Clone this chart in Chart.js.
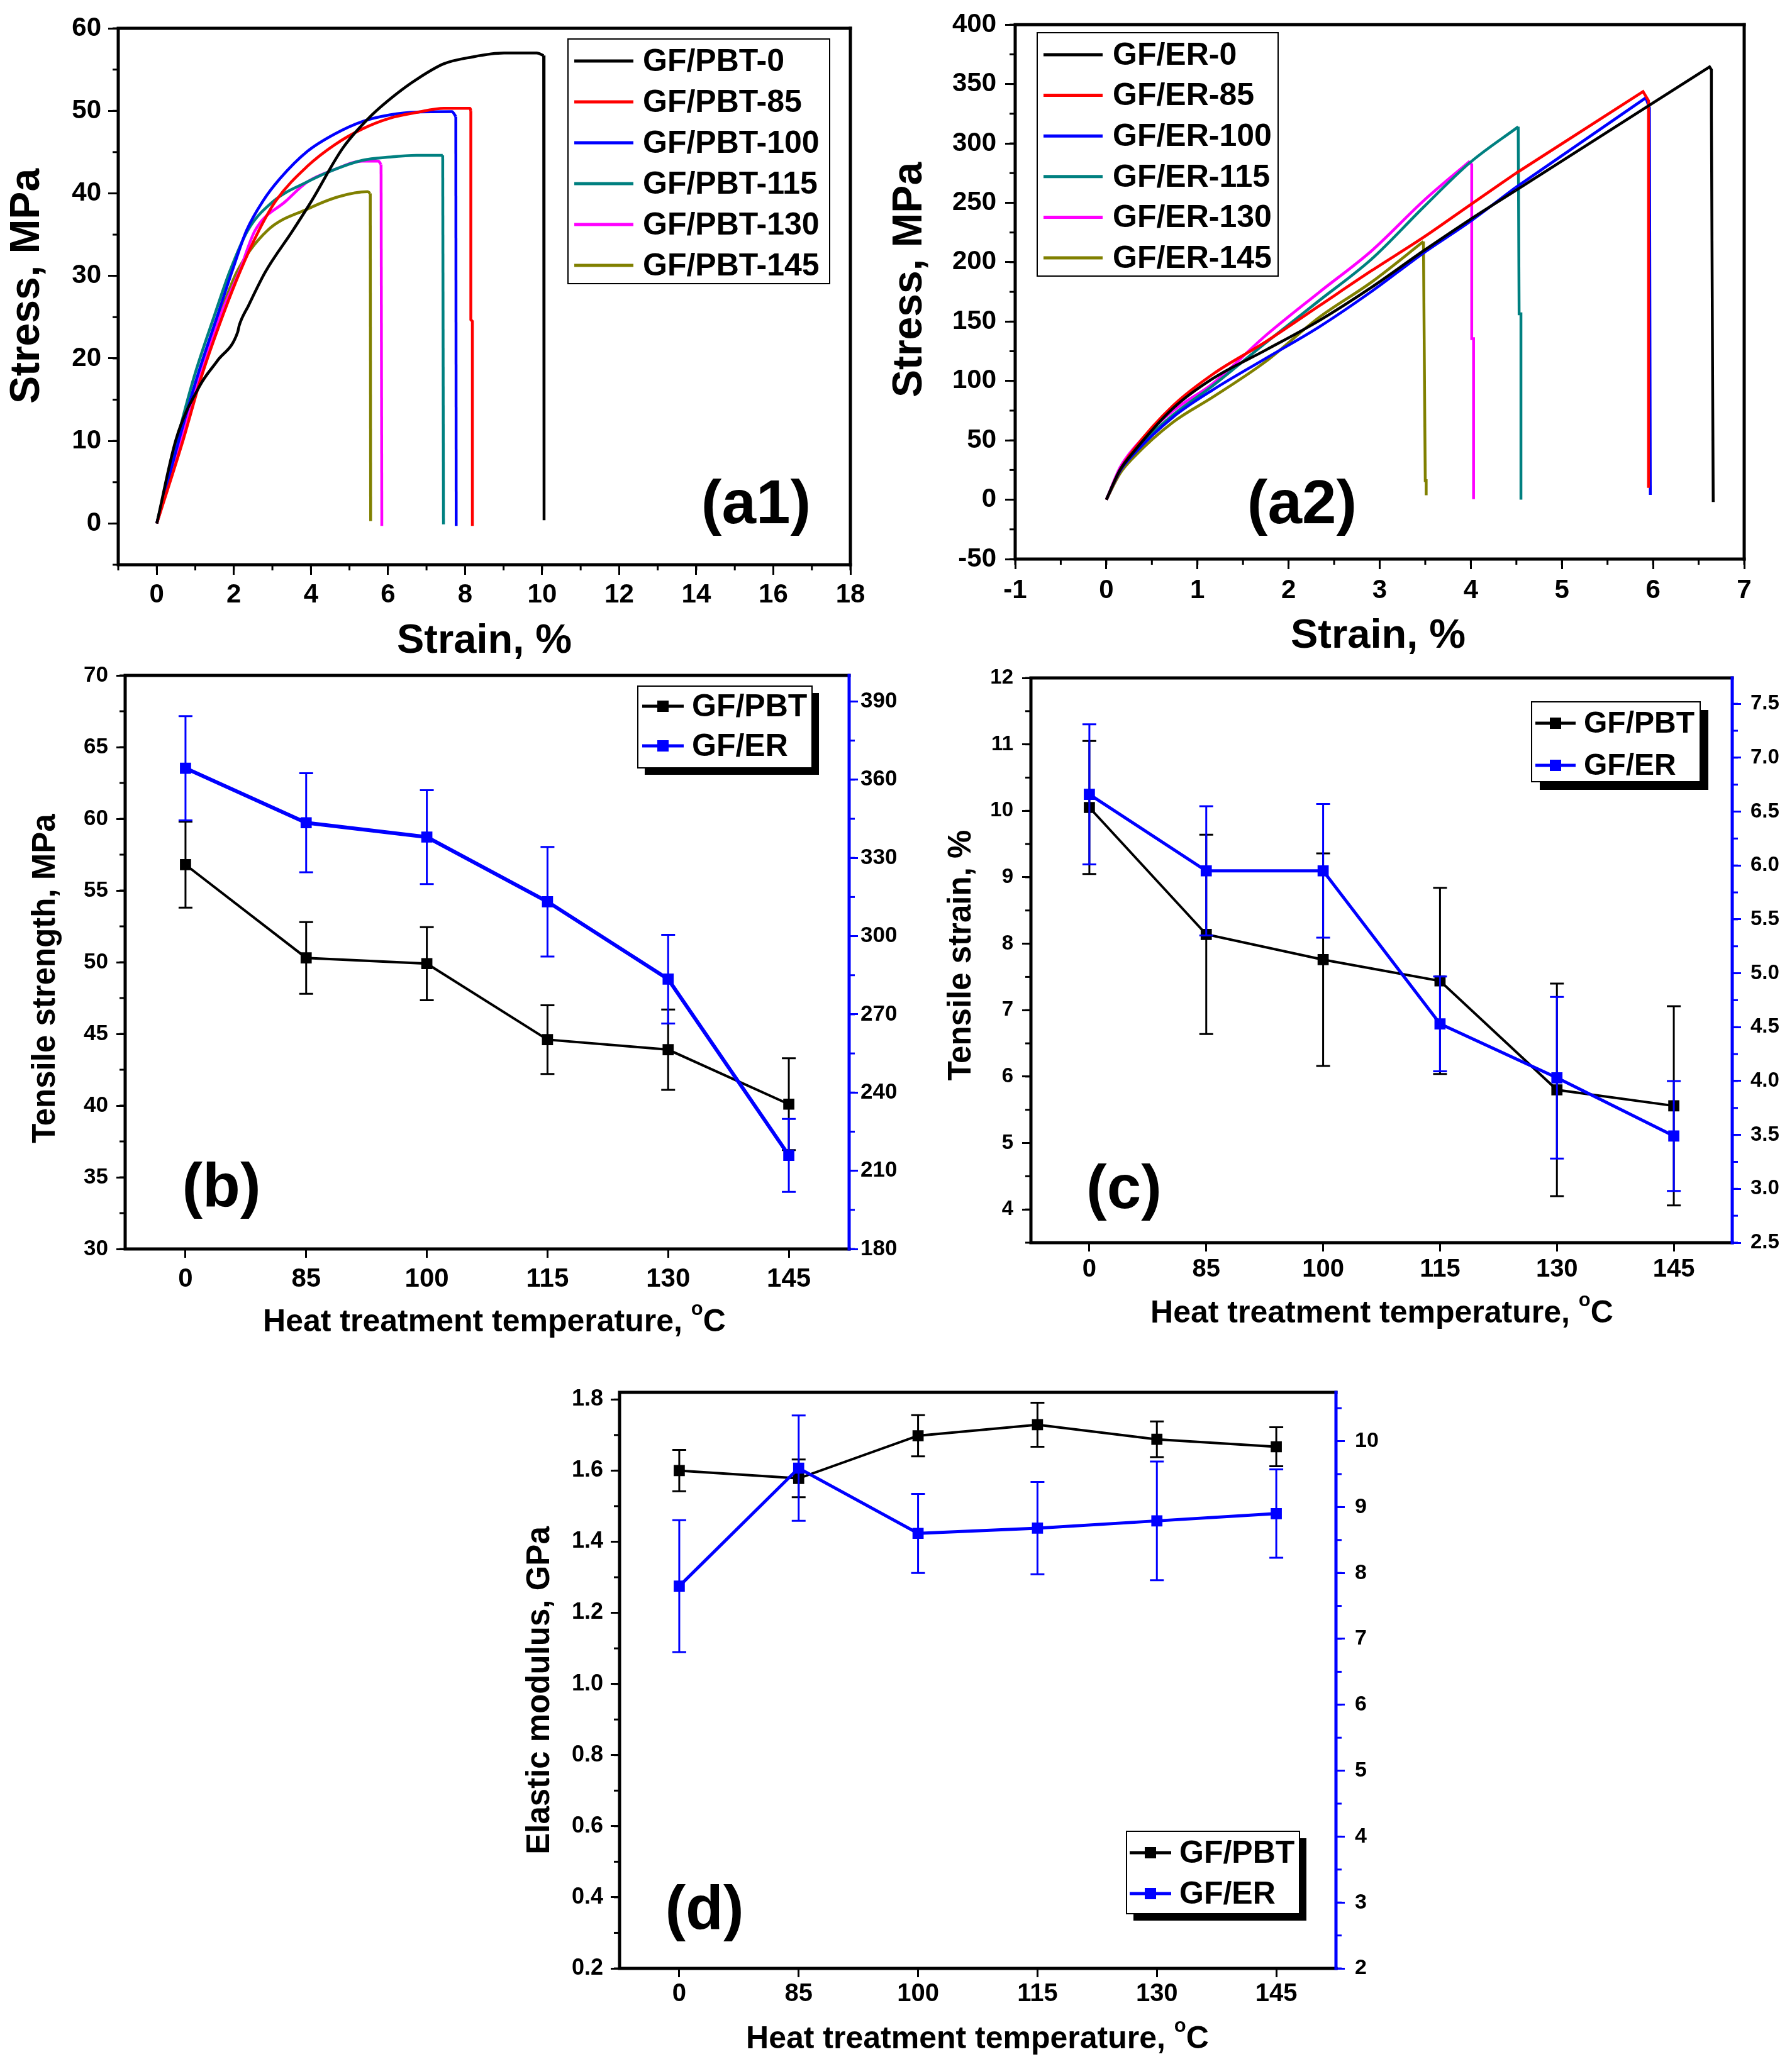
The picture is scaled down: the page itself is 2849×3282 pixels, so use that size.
<!DOCTYPE html>
<html>
<head>
<meta charset="utf-8">
<script src="https://cdn.jsdelivr.net/npm/chart.js@4.4.1/dist/chart.umd.min.js"></script>
<style>
  html, body { margin: 0; padding: 0; background: #fff; }
  body { width: 2849px; height: 3282px; position: relative; overflow: hidden; }
  canvas { position: absolute; }
</style>
</head>
<body>
<canvas id="a1" width="1400" height="1060" style="left:0px;top:0px"></canvas>
<canvas id="a2" width="1449" height="1060" style="left:1400px;top:0px"></canvas>
<canvas id="b" width="1460" height="1120" style="left:0px;top:1040px"></canvas>
<canvas id="c" width="1389" height="1120" style="left:1460px;top:1040px"></canvas>
<canvas id="d" width="1430" height="1122" style="left:800px;top:2160px"></canvas>
<script>
const FONT = '"Liberation Sans", Arial, Helvetica, sans-serif';

// (a1) GF/PBT stress-strain curves
const pbt0Strain = [0, 0.5, 1.13, 1.57, 2.10, 2.14, 2.38, 2.82, 3.53, 4.02, 4.83, 5.54, 6.18, 6.74, 7.45, 8.16, 9.01, 9.86, 10.04, 10.05];
const pbt0Stress = [0, 10.2, 16.8, 19.7, 23.2, 24.0, 26.4, 30.5, 35.5, 39.1, 45.5, 49.3, 51.9, 53.8, 55.7, 56.5, 57.0, 57.0, 56.7, 0.4];
const pbt85Strain = [0, 0.69, 1.16, 1.73, 2.16, 2.65, 3.09, 3.91, 4.62, 5.33, 6.04, 6.74, 7.45, 8.13, 8.15, 8.15, 8.19, 8.19];
const pbt85Stress = [0, 10.2, 17.8, 25.4, 30.5, 35.5, 39.1, 43.3, 45.9, 47.8, 49.1, 49.8, 50.3, 50.3, 50.0, 24.7, 24.5, -0.3];
const pbt100Strain = [0, 0.58, 1.05, 1.59, 1.95, 2.33, 2.76, 3.20, 3.91, 4.62, 5.33, 6.04, 6.74, 7.66, 7.76, 7.77];
const pbt100Stress = [0, 10.2, 17.8, 25.4, 30.5, 35.5, 39.1, 41.8, 45.1, 47.2, 48.7, 49.5, 49.85, 49.9, 49.3, -0.3];
const pbt115Strain = [0, 0.53, 0.97, 1.51, 1.89, 2.36, 3.04, 3.91, 4.62, 5.33, 6.04, 6.74, 7.42, 7.44];
const pbt115Stress = [0, 10.2, 17.8, 25.4, 30.5, 35.5, 39.1, 41.4, 42.9, 44.0, 44.4, 44.6, 44.6, -0.1];
const pbt130Strain = [0, 0.64, 1.12, 1.67, 2.14, 2.55, 3.36, 3.91, 4.62, 5.33, 5.75, 5.82, 5.84];
const pbt130Stress = [0, 10.2, 17.8, 25.4, 30.5, 35.5, 39.1, 41.4, 42.9, 43.9, 43.9, 43.5, -0.3];
const pbt145Strain = [0, 0.61, 1.10, 1.65, 2.08, 2.87, 3.91, 4.72, 5.47, 5.54, 5.55];
const pbt145Stress = [0, 10.2, 17.8, 25.4, 30.5, 35.5, 38.1, 39.6, 40.2, 40.0, 0.3];

// (a2) GF/ER stress-strain curves
const er0Strain = [0, 0.15, 0.297, 0.733, 1.169, 1.75, 2.33, 2.91, 3.48, 3.99, 4.49, 5.91, 6.62, 6.64, 6.64, 6.66];
const er0Stress = [0, 25, 40, 77, 102, 126, 150.5, 178.8, 209.5, 235.8, 260.2, 329.7, 364.4, 362, 324.5, -2];
const er85Strain = [0, 0.15, 0.297, 0.733, 1.169, 1.75, 2.33, 2.91, 3.48, 3.99, 4.49, 5.89, 5.95, 5.95];
const er85Stress = [0, 25, 42, 79.3, 105.7, 133, 162.9, 192.8, 220.9, 248.1, 274.6, 343.6, 336, 10];
const er100Strain = [0, 0.15, 0.297, 0.733, 1.169, 1.75, 2.33, 2.91, 3.48, 3.99, 4.49, 5.92, 5.96, 5.97];
const er100Stress = [0, 24, 38, 69.6, 92.5, 119, 145.2, 175.3, 207.7, 234.1, 262.8, 338.4, 330, 4];
const er115Strain = [0, 0.15, 0.297, 0.733, 1.169, 1.75, 2.33, 2.91, 3.49, 3.99, 4.52, 4.53, 4.55, 4.55];
const er115Stress = [0, 25, 40, 71.4, 96, 132.1, 167.3, 202.5, 247, 283.8, 314, 156.5, 156.5, 0];
const er130Strain = [0, 0.15, 0.297, 0.733, 1.169, 1.75, 2.33, 2.91, 3.49, 3.99, 4.01, 4.01, 4.03, 4.03];
const er130Stress = [0, 27, 43, 74.9, 97.8, 138.3, 174.3, 209.5, 252.3, 285.1, 282, 135.6, 135.6, 0.5];
const er145Strain = [0, 0.15, 0.297, 0.733, 1.169, 1.75, 2.33, 2.91, 3.48, 3.50, 3.51, 3.51];
const er145Stress = [0, 22, 35.4, 65.3, 86.4, 116.4, 153.2, 183.2, 217.4, 16, 16, 3.7];

// (b)-(d) heat treatment series
const tempLabels = ['0', '85', '100', '115', '130', '145'];
const strengthPBT = [56.8, 50.3, 49.9, 44.6, 43.9, 40.1];
const strengthPBTErr = [3.0, 2.5, 2.55, 2.4, 2.8, 3.2];
const strengthER = [364.4, 343.5, 338, 313.2, 283.5, 215.9];
const strengthERErr = [20, 19, 18, 21, 17, 14];
const strainPBT = [10.05, 8.14, 7.76, 7.44, 5.80, 5.56];
const strainPBTErr = [1.0, 1.5, 1.6, 1.4, 1.6, 1.5];
const strainER = [6.66, 5.95, 5.95, 4.53, 4.03, 3.49];
const strainERErr = [0.65, 0.6, 0.62, 0.44, 0.75, 0.51];
const modulusPBT = [1.600, 1.578, 1.698, 1.729, 1.688, 1.667];
const modulusPBTErr = [0.058, 0.053, 0.058, 0.062, 0.05, 0.055];
const modulusER = [7.80, 9.59, 8.60, 8.68, 8.79, 8.90];
const modulusERErr = [1.0, 0.8, 0.6, 0.7, 0.9, 0.67];

const BLUE = '#0000ff';

function pts(xs, ys) {
  return xs.map((x, i) => ({ x: x, y: ys[i] }));
}

function range(a, b, step) {
  const out = [];
  const n = Math.round((b - a) / step);
  for (let i = 0; i <= n; i++) out.push(+(a + i * step).toFixed(4));
  return out;
}

function valueAxis(o) {
  return {
    type: 'linear',
    position: o.position,
    min: o.min,
    max: o.max,
    afterBuildTicks: s => { s.ticks = o.ticks.map(v => ({ value: v })); },
    afterFit: s => {
      if (o.width) s.width = o.width;
      if (o.height) s.height = o.height;
    },
    border: { display: false },
    grid: {
      drawOnChartArea: false,
      drawTicks: true,
      tickLength: o.tickLength || 16,
      tickWidth: 3,
      tickColor: o.color || '#000',
      color: o.color || '#000'
    },
    ticks: {
      color: '#000',
      padding: o.padding,
      autoSkip: false,
      maxRotation: 0,
      font: { family: FONT, weight: 'bold', size: o.fontSize },
      callback: o.fmt || (v => String(v))
    }
  };
}

function catAxis(o) {
  return {
    type: 'category',
    labels: tempLabels,
    position: 'bottom',
    offset: true,
    afterFit: s => { s.height = o.height; },
    border: { display: false },
    grid: {
      offset: false,
      drawOnChartArea: false,
      drawTicks: true,
      tickLength: 14,
      tickWidth: 3,
      tickColor: '#000'
    },
    ticks: {
      color: '#000',
      padding: o.padding,
      autoSkip: false,
      maxRotation: 0,
      font: { family: FONT, weight: 'bold', size: o.fontSize }
    }
  };
}

// box around the plot plus minor ticks
function framePlugin(o) {
  return {
    id: 'frame',
    afterDatasetsDraw(chart) {
      const ctx = chart.ctx, a = chart.chartArea;
      ctx.save();
      ctx.lineWidth = 3;
      (o.minor || []).forEach(m => {
        const s = chart.scales[m.axis];
        ctx.strokeStyle = m.color || '#000';
        const start = Math.ceil(s.min / m.step - 1e-6) * m.step;
        for (let v = start; v <= s.max + 1e-6; v += m.step) {
          const p = s.getPixelForValue(v);
          ctx.beginPath();
          if (s.position === 'left') { ctx.moveTo(a.left, p); ctx.lineTo(a.left - 9, p); }
          else if (s.position === 'right') { ctx.moveTo(a.right, p); ctx.lineTo(a.right + 9, p); }
          else { ctx.moveTo(p, a.bottom); ctx.lineTo(p, a.bottom + 9); }
          ctx.stroke();
        }
      });
      ctx.lineWidth = 5;
      ctx.lineCap = 'square';
      ctx.strokeStyle = '#000';
      ctx.beginPath();
      ctx.moveTo(a.right, a.top);
      ctx.lineTo(a.left, a.top);
      ctx.lineTo(a.left, a.bottom);
      ctx.lineTo(a.right, a.bottom);
      ctx.stroke();
      ctx.strokeStyle = o.rightColor || '#000';
      ctx.beginPath();
      ctx.moveTo(a.right, a.top);
      ctx.lineTo(a.right, a.bottom);
      ctx.stroke();
      ctx.restore();
    }
  };
}

const errorBarPlugin = {
  id: 'errorBars',
  afterDatasetDraw(chart, args) {
    const ds = chart.data.datasets[args.index];
    if (!ds.errors) return;
    const ctx = chart.ctx, meta = args.meta, ys = chart.scales[meta.yAxisID];
    const cap = 11;
    ctx.save();
    ctx.strokeStyle = ds.borderColor;
    ctx.lineWidth = 3;
    meta.data.forEach((pt, i) => {
      const v = ds.data[i], e = ds.errors[i];
      const y1 = ys.getPixelForValue(v + e), y2 = ys.getPixelForValue(v - e);
      ctx.beginPath();
      ctx.moveTo(pt.x, y1); ctx.lineTo(pt.x, y2);
      ctx.moveTo(pt.x - cap, y1); ctx.lineTo(pt.x + cap, y1);
      ctx.moveTo(pt.x - cap, y2); ctx.lineTo(pt.x + cap, y2);
      ctx.stroke();
    });
    ctx.restore();
  }
};

function legendPlugin(o) {
  return {
    id: 'boxLegend',
    afterDraw(chart) {
      const ctx = chart.ctx;
      ctx.save();
      if (o.shadow) {
        ctx.fillStyle = '#000';
        ctx.fillRect(o.x + o.shadow, o.y + o.shadow, o.w, o.h);
      }
      ctx.fillStyle = '#fff';
      ctx.fillRect(o.x, o.y, o.w, o.h);
      ctx.strokeStyle = '#000';
      ctx.lineWidth = 2;
      ctx.strokeRect(o.x, o.y, o.w, o.h);
      ctx.font = 'bold ' + o.fontSize + 'px ' + FONT;
      ctx.textBaseline = 'middle';
      ctx.textAlign = 'left';
      chart.data.datasets.filter(ds => !ds.noLegend).forEach((ds, i) => {
        const y = o.rowY + i * o.rowH;
        ctx.strokeStyle = ds.borderColor;
        ctx.lineWidth = o.lineWidth;
        ctx.beginPath();
        ctx.moveTo(o.sx1, y);
        ctx.lineTo(o.sx2, y);
        ctx.stroke();
        if (o.marker) {
          ctx.fillStyle = ds.borderColor;
          ctx.fillRect((o.sx1 + o.sx2) / 2 - o.marker / 2, y - o.marker / 2, o.marker, o.marker);
        }
        ctx.fillStyle = '#000';
        ctx.fillText(ds.label, o.tx, y + 2);
      });
      ctx.restore();
    }
  };
}

function textPlugin(items) {
  return {
    id: 'texts',
    afterDraw(chart) {
      const ctx = chart.ctx;
      items.forEach(t => {
        ctx.save();
        ctx.translate(t.x, t.y);
        if (t.rot) ctx.rotate(t.rot * Math.PI / 180);
        ctx.fillStyle = '#000';
        ctx.textBaseline = 'middle';
        const big = 'bold ' + t.size + 'px ' + FONT;
        const small = 'bold ' + Math.round(t.size * 0.62) + 'px ' + FONT;
        if (t.sup) {
          ctx.font = big;
          const w1 = ctx.measureText(t.text).width;
          const w3 = ctx.measureText(t.tail).width;
          ctx.font = small;
          const w2 = ctx.measureText(t.sup).width;
          let x = -(w1 + w2 + w3) / 2;
          ctx.textAlign = 'left';
          ctx.font = big;
          ctx.fillText(t.text, x, 0);
          ctx.font = small;
          ctx.fillText(t.sup, x + w1, -t.size * 0.42);
          ctx.font = big;
          ctx.fillText(t.tail, x + w1 + w2, 0);
        } else {
          ctx.font = big;
          ctx.textAlign = 'center';
          ctx.fillText(t.text, 0, 0);
        }
        ctx.restore();
      });
    }
  };
}

// a loading curve: smooth part up to point n, straight segments after it
function curve(label, xs, ys, color, n) {
  const all = pts(xs, ys);
  const common = {
    borderColor: color,
    backgroundColor: color,
    borderWidth: 4.5,
    pointRadius: 0,
    showLine: true,
    fill: false
  };
  return [
    Object.assign({ label: label, data: all.slice(0, n), cubicInterpolationMode: 'monotone' }, common),
    Object.assign({ label: label, data: all.slice(n - 1), tension: 0, noLegend: true }, common)
  ];
}

function series(label, values, errors, color, axisId, width, order) {
  return {
    label: label,
    data: values,
    errors: errors,
    yAxisID: axisId,
    borderColor: color,
    backgroundColor: color,
    borderWidth: width,
    pointStyle: 'rect',
    pointRadius: 12.5,
    pointBorderWidth: 0,
    order: order
  };
}

const baseOptions = {
  responsive: false,
  animation: false,
  devicePixelRatio: 1,
  plugins: { legend: { display: false }, tooltip: { enabled: false } }
};

Chart.defaults.font.family = FONT;

// ---- (a1)
new Chart(document.getElementById('a1'), {
  type: 'scatter',
  data: {
    datasets: [].concat(
      curve('GF/PBT-0', pbt0Strain, pbt0Stress, '#000000', 19),
      curve('GF/PBT-85', pbt85Strain, pbt85Stress, '#ff0000', 15),
      curve('GF/PBT-100', pbt100Strain, pbt100Stress, BLUE, 15),
      curve('GF/PBT-115', pbt115Strain, pbt115Stress, '#008080', 13),
      curve('GF/PBT-130', pbt130Strain, pbt130Stress, '#ff00ff', 12),
      curve('GF/PBT-145', pbt145Strain, pbt145Stress, '#808000', 10)
    )
  },
  options: Object.assign({}, baseOptions, {
    layout: { padding: { top: 45, right: 48, left: 0, bottom: 0 } },
    scales: {
      x: valueAxis({ position: 'bottom', min: -1, max: 18, ticks: range(0, 18, 2), height: 162, fontSize: 42, padding: 7 }),
      y: valueAxis({ position: 'left', min: -5, max: 60, ticks: range(0, 60, 10), width: 188, fontSize: 42, padding: 11 })
    }
  }),
  plugins: [
    framePlugin({ minor: [{ axis: 'x', step: 1 }, { axis: 'y', step: 5 }] }),
    legendPlugin({ x: 903, y: 62, w: 416, h: 389, rowY: 97, rowH: 65, sx1: 913, sx2: 1007, tx: 1022, fontSize: 50, lineWidth: 5 }),
    textPlugin([
      { text: '(a1)', x: 1202, y: 805, size: 98 },
      { text: 'Stress, MPa', x: 44, y: 455, size: 66, rot: -90 },
      { text: 'Strain, %', x: 770, y: 1020, size: 65 }
    ])
  ]
});

// ---- (a2)
new Chart(document.getElementById('a2'), {
  type: 'scatter',
  data: {
    datasets: [].concat(
      curve('GF/ER-0', er0Strain, er0Stress, '#000000', 11),
      curve('GF/ER-85', er85Strain, er85Stress, '#ff0000', 11),
      curve('GF/ER-100', er100Strain, er100Stress, BLUE, 11),
      curve('GF/ER-115', er115Strain, er115Stress, '#008080', 11),
      curve('GF/ER-130', er130Strain, er130Stress, '#ff00ff', 10),
      curve('GF/ER-145', er145Strain, er145Stress, '#808000', 9)
    )
  },
  options: Object.assign({}, baseOptions, {
    layout: { padding: { top: 39, right: 76, left: 0, bottom: 0 } },
    scales: {
      x: valueAxis({ position: 'bottom', min: -1, max: 7, ticks: range(-1, 7, 1), height: 171, fontSize: 42, padding: 9 }),
      y: valueAxis({ position: 'left', min: -50, max: 400, ticks: range(-50, 400, 50), width: 214, fontSize: 42, padding: 14 })
    }
  }),
  plugins: [
    framePlugin({ minor: [{ axis: 'x', step: 0.5 }, { axis: 'y', step: 25 }] }),
    legendPlugin({ x: 249, y: 52, w: 383, h: 387, rowY: 87, rowH: 64.6, sx1: 259, sx2: 353, tx: 369, fontSize: 50, lineWidth: 5 }),
    textPlugin([
      { text: '(a2)', x: 670, y: 805, size: 98 },
      { text: 'Stress, MPa', x: 47, y: 445, size: 66, rot: -90 },
      { text: 'Strain, %', x: 791, y: 1012, size: 65 }
    ])
  ]
});

// ---- (b)
new Chart(document.getElementById('b'), {
  type: 'line',
  data: {
    labels: tempLabels,
    datasets: [
      series('GF/PBT', strengthPBT, strengthPBTErr, '#000000', 'y', 4, 2),
      series('GF/ER', strengthER, strengthERErr, BLUE, 'y1', 6, 1)
    ]
  },
  options: Object.assign({}, baseOptions, {
    layout: { padding: { top: 24, right: 0, left: 0, bottom: 0 } },
    scales: {
      x: catAxis({ height: 174, fontSize: 42, padding: 9 }),
      y: valueAxis({ position: 'left', min: 30, max: 70, ticks: range(30, 70, 5), width: 199, fontSize: 35, padding: 13, tickLength: 14 }),
      y1: valueAxis({ position: 'right', min: 180, max: 400, ticks: range(180, 390, 30), width: 110, fontSize: 35, padding: 4, tickLength: 14, color: BLUE })
    }
  }),
  plugins: [
    errorBarPlugin,
    framePlugin({ rightColor: BLUE, minor: [{ axis: 'y', step: 2.5 }, { axis: 'y1', step: 15, color: BLUE }] }),
    legendPlugin({ x: 1014, y: 51, w: 277, h: 130, shadow: 11, rowY: 83, rowH: 63, sx1: 1021, sx2: 1087, tx: 1100, fontSize: 50, lineWidth: 5, marker: 18 }),
    textPlugin([
      { text: '(b)', x: 352, y: 851, size: 98 },
      { text: 'Tensile strength, MPa', x: 73, y: 516, size: 51, rot: -90 },
      { text: 'Heat treatment temperature, ', sup: 'o', tail: 'C', x: 786, y: 1063, size: 50 }
    ])
  ]
});

// ---- (c)
new Chart(document.getElementById('c'), {
  type: 'line',
  data: {
    labels: tempLabels,
    datasets: [
      series('GF/PBT', strainPBT, strainPBTErr, '#000000', 'y', 4, 2),
      series('GF/ER', strainER, strainERErr, BLUE, 'y1', 5, 1)
    ]
  },
  options: Object.assign({}, baseOptions, {
    layout: { padding: { top: 38, right: 0, left: 0, bottom: 0 } },
    scales: {
      x: catAxis({ height: 184, fontSize: 40, padding: 5 }),
      y: valueAxis({ position: 'left', min: 3.5, max: 12, ticks: range(4, 12, 1), width: 179, fontSize: 33, padding: 14, tickLength: 14 }),
      y1: valueAxis({ position: 'right', min: 2.5, max: 7.74, ticks: range(2.5, 7.5, 0.5), width: 95, fontSize: 33, padding: 15, tickLength: 14, color: BLUE, fmt: v => Number(v).toFixed(1) })
    }
  }),
  plugins: [
    errorBarPlugin,
    framePlugin({ rightColor: BLUE, minor: [{ axis: 'y', step: 0.5 }, { axis: 'y1', step: 0.25, color: BLUE }] }),
    legendPlugin({ x: 975, y: 76, w: 268, h: 127, shadow: 13, rowY: 110, rowH: 67, sx1: 981, sx2: 1045, tx: 1058, fontSize: 48, lineWidth: 5, marker: 18 }),
    textPlugin([
      { text: '(c)', x: 327, y: 854, size: 98 },
      { text: 'Tensile strain, %', x: 69, y: 479, size: 51, rot: -90 },
      { text: 'Heat treatment temperature, ', sup: 'o', tail: 'C', x: 737, y: 1049, size: 50 }
    ])
  ]
});

// ---- (d)
new Chart(document.getElementById('d'), {
  type: 'line',
  data: {
    labels: tempLabels,
    datasets: [
      series('GF/PBT', modulusPBT, modulusPBTErr, '#000000', 'y', 4, 2),
      series('GF/ER', modulusER, modulusERErr, BLUE, 'y1', 5, 1)
    ]
  },
  options: Object.assign({}, baseOptions, {
    layout: { padding: { top: 54, right: 0, left: 0, bottom: 0 } },
    scales: {
      x: catAxis({ height: 152, fontSize: 40, padding: 3 }),
      y: valueAxis({ position: 'left', min: 0.2, max: 1.82, ticks: range(0.2, 1.8, 0.2), width: 185, fontSize: 36, padding: 12, tickLength: 14, fmt: v => Number(v).toFixed(1) }),
      y1: valueAxis({ position: 'right', min: 2, max: 10.74, ticks: range(2, 10, 1), width: 106, fontSize: 34, padding: 16, tickLength: 14, color: BLUE })
    }
  }),
  plugins: [
    errorBarPlugin,
    framePlugin({ rightColor: BLUE, minor: [{ axis: 'y', step: 0.1 }, { axis: 'y1', step: 0.5, color: BLUE }] }),
    legendPlugin({ x: 991, y: 752, w: 275, h: 131, shadow: 11, rowY: 786, rowH: 65, sx1: 996, sx2: 1062, tx: 1075, fontSize: 50, lineWidth: 5, marker: 18 }),
    textPlugin([
      { text: '(d)', x: 320, y: 880, size: 98 },
      { text: 'Elastic modulus, GPa', x: 59, y: 528, size: 51, rot: -90 },
      { text: 'Heat treatment temperature, ', sup: 'o', tail: 'C', x: 754, y: 1083, size: 50 }
    ])
  ]
});
</script>
</body>
</html>
